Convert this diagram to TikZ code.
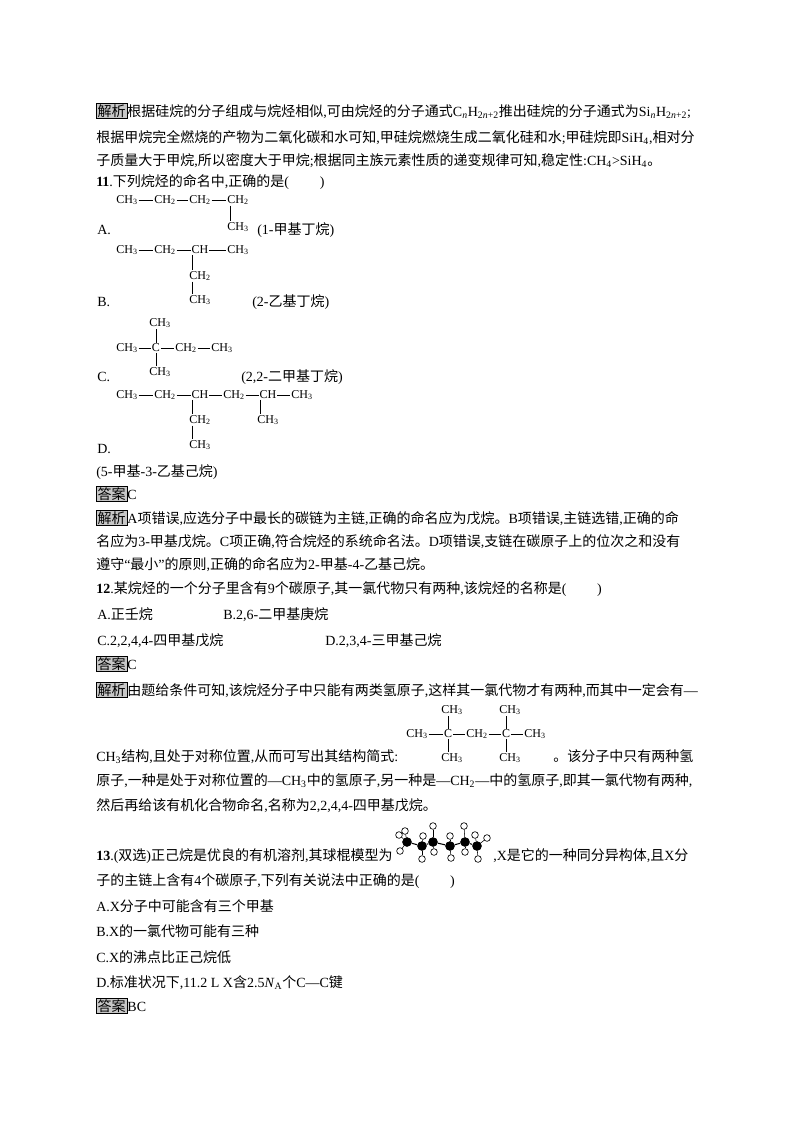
\documentclass[tikz,border=0pt]{standalone}
\usepackage{fontspec}
\setmainfont{Liberation Serif}
\newfontfamily\cjkf{Noto Sans CJK SC}
\newcommand\latf{\rmfamily}
\XeTeXinterchartokenstate=1
\newXeTeXintercharclass\cjkcls
\count255="4E00
\loop \XeTeXcharclass\count255=\cjkcls \ifnum\count255<"9FFF \advance\count255 by 1 \repeat
\count255="3000
\loop \XeTeXcharclass\count255=\cjkcls \ifnum\count255<"303F \advance\count255 by 1 \repeat
\count255="FF01
\loop \XeTeXcharclass\count255=\cjkcls \ifnum\count255<"FF5E \advance\count255 by 1 \repeat
\XeTeXinterchartoks 0 \cjkcls={\cjkf}
\XeTeXinterchartoks 4095 \cjkcls={\cjkf}
\XeTeXinterchartoks \cjkcls 0={\latf}
\XeTeXinterchartoks \cjkcls 4095={\latf}
\newcommand\subs[1]{\textsubscript{#1}}
\newcommand\chg[1]{CH\textsubscript{#1}}
\begin{document}
\begin{tikzpicture}[x=0.75pt,y=-0.75pt,
  txt/.style={anchor=base west,inner sep=0pt,font=\fontsize{10.5pt}{12pt}\selectfont},
  grp/.style={inner sep=0.5pt,font=\fontsize{9pt}{10pt}\selectfont},
  tag/.style={anchor=base west,inner sep=1pt,draw=black,fill=black!22,font=\fontsize{10.5pt}{12pt}\selectfont},
  bond/.style={line width=0.4pt},
  cat/.style={circle,fill=black,inner sep=0pt,minimum size=7pt},
  hat/.style={circle,draw=black,fill=white,inner sep=0pt,minimum size=5pt,line width=0.5pt}]
\useasboundingbox (0,0) rectangle (800,1132);
% first paragraph
\node[tag] (t1) at (96,116) {解析};
\node[txt,anchor=base west] (l1) at (t1.base east) {根据硅烷的分子组成与烷烃相似,可由烷烃的分子通式C\subs{\textit{n}}H\subs{2\textit{n}+2}推出硅烷的分子通式为Si\subs{\textit{n}}H\subs{2\textit{n}+2};};
\node[txt] (l2) at (96,142) {根据甲烷完全燃烧的产物为二氧化碳和水可知,甲硅烷燃烧生成二氧化硅和水;甲硅烷即SiH\subs{4},相对分};
\node[txt] (l3) at (96,165) {子质量大于甲烷,所以密度大于甲烷;根据同主族元素性质的递变规律可知,稳定性:CH\subs{4}>SiH\subs{4}。};
\node[txt] (q11) at (96,186) {\textbf{11}.下列烷烃的命名中,正确的是(\hspace{2.2em})};
% A
\node[grp] (a1) at (127,200) {\chg{3}};
\node[grp] (a2) at (165,200) {\chg{2}};
\node[grp] (a3) at (200,200) {\chg{2}};
\node[grp] (a4) at (238,200) {\chg{2}};
\node[grp] (a5) at (238,227) {\chg{3}};
\draw[bond] (a1) -- (a2); \draw[bond] (a2) -- (a3); \draw[bond] (a3) -- (a4);
\draw[bond] ([xshift=3pt]a4.south west) -- ([xshift=3pt]a4.south west |- a5.north);
\node[txt] (la) at (97,234) {A.};
\node[txt] (na) at (257,234) {(1-甲基丁烷)};
% B
\node[grp] (b1) at (127,250) {\chg{3}};
\node[grp] (b2) at (165,250) {\chg{2}};
\node[grp] (b3) at (200,250) {CH};
\node[grp] (b4) at (238,250) {\chg{3}};
\node[grp] (b5) at (200,276) {\chg{2}};
\node[grp] (b6) at (200,300) {\chg{3}};
\draw[bond] (b1) -- (b2); \draw[bond] (b2) -- (b3); \draw[bond] (b3) -- (b4);
\draw[bond] ([xshift=3pt]b5.north west |- b3.south) -- ([xshift=3pt]b5.north west);
\draw[bond] ([xshift=3pt]b5.south west) -- ([xshift=3pt]b5.south west |- b6.north);
\node[txt] (lb) at (97,306) {B.};
\node[txt] (nb) at (252,306) {(2-乙基丁烷)};
% C
\node[grp] (c0) at (160,323) {\chg{3}};
\node[grp] (c1) at (127,348) {\chg{3}};
\node[grp] (c2) at (156,348) {C};
\node[grp] (c3) at (186,348) {\chg{2}};
\node[grp] (c4) at (222,348) {\chg{3}};
\node[grp] (c5) at (160,372) {\chg{3}};
\draw[bond] (c1) -- (c2); \draw[bond] (c2) -- (c3); \draw[bond] (c3) -- (c4);
\draw[bond] (c2) -- (c2 |- c0.south); \draw[bond] (c2) -- (c2 |- c5.north);
\node[txt] (lc) at (97,381) {C.};
\node[txt] (nc) at (241,381) {(2,2-二甲基丁烷)};
% D
\node[grp] (d1) at (127,395) {\chg{3}};
\node[grp] (d2) at (165,395) {\chg{2}};
\node[grp] (d3) at (200,395) {CH};
\node[grp] (d4) at (234,395) {\chg{2}};
\node[grp] (d5) at (268,395) {CH};
\node[grp] (d6) at (302,395) {\chg{3}};
\node[grp] (d7) at (200,420) {\chg{2}};
\node[grp] (d8) at (200,445) {\chg{3}};
\node[grp] (d9) at (268,420) {\chg{3}};
\draw[bond] (d1) -- (d2); \draw[bond] (d2) -- (d3); \draw[bond] (d3) -- (d4);
\draw[bond] (d4) -- (d5); \draw[bond] (d5) -- (d6);
\draw[bond] ([xshift=3pt]d7.north west |- d3.south) -- ([xshift=3pt]d7.north west);
\draw[bond] ([xshift=3pt]d7.south west) -- ([xshift=3pt]d7.south west |- d8.north);
\draw[bond] ([xshift=3pt]d9.north west |- d5.south) -- ([xshift=3pt]d9.north west);
\node[txt] (ld) at (97,453) {D.};
\node[txt] (nd) at (96,476) {(5-甲基-3-乙基己烷)};
\node[tag] (t2) at (96,499) {答案};
\node[txt] (a11) at (t2.base east) {C};
\node[tag] (t3) at (96,523) {解析};
\node[txt] (e1) at (t3.base east) {A项错误,应选分子中最长的碳链为主链,正确的命名应为戊烷。B项错误,主链选错,正确的命};
\node[txt] (e2) at (96,546) {名应为3-甲基戊烷。C项正确,符合烷烃的系统命名法。D项错误,支链在碳原子上的位次之和没有};
\node[txt] (e3) at (96,569) {遵守“最小”的原则,正确的命名应为2-甲基-4-乙基己烷。};
% 12
\node[txt] (q12) at (96,593) {\textbf{12}.某烷烃的一个分子里含有9个碳原子,其一氯代物只有两种,该烷烃的名称是(\hspace{2.2em})};
\node[txt] (o1) at (97,619) {A.正壬烷};
\node[txt] (o2) at (223,619) {B.2,6-二甲基庚烷};
\node[txt] (o3) at (97,645) {C.2,2,4,4-四甲基戊烷};
\node[txt] (o4) at (325,645) {D.2,3,4-三甲基己烷};
\node[tag] (t4) at (96,669) {答案};
\node[txt] (a12) at (t4.base east) {C};
\node[tag] (t5) at (96,695) {解析};
\node[txt] (f1) at (t5.base east) {由题给条件可知,该烷烃分子中只能有两类氢原子,这样其一氯代物才有两种,而其中一定会有—};
\node[grp] (s1) at (452,710) {\chg{3}};
\node[grp] (s2) at (510,710) {\chg{3}};
\node[grp] (s3) at (417,734) {\chg{3}};
\node[grp] (s4) at (448,734) {C};
\node[grp] (s5) at (477,734) {\chg{2}};
\node[grp] (s6) at (506,734) {C};
\node[grp] (s7) at (535,734) {\chg{3}};
\node[grp] (s8) at (452,758) {\chg{3}};
\node[grp] (s9) at (510,758) {\chg{3}};
\draw[bond] (s3) -- (s4); \draw[bond] (s4) -- (s5); \draw[bond] (s5) -- (s6); \draw[bond] (s6) -- (s7);
\draw[bond] (s4) -- (s4 |- s1.south); \draw[bond] (s4) -- (s4 |- s8.north);
\draw[bond] (s6) -- (s6 |- s2.south); \draw[bond] (s6) -- (s6 |- s9.north);
\node[txt] (f2) at (96,761) {CH\subs{3}结构,且处于对称位置,从而可写出其结构简式:};
\node[txt] (f3) at (553,761) {。该分子中只有两种氢};
\node[txt] (f4) at (96,785) {原子,一种是处于对称位置的—CH\subs{3}中的氢原子,另一种是—CH\subs{2}—中的氢原子,即其一氯代物有两种,};
\node[txt] (f5) at (96,810) {然后再给该有机化合物命名,名称为2,2,4,4-四甲基戊烷。};
% 13
\node[txt] (q13) at (96,860) {\textbf{13}.(双选)正己烷是优良的有机溶剂,其球棍模型为};
\node[txt] (q13b) at (493,860) {,X是它的一种同分异构体,且X分};
\foreach \i/\x/\y in {1/407/842,2/422/846,3/433/842,4/450/846,5/465/842,6/477/846} \node[cat] (k\i) at (\x,\y) {};
\foreach \n/\x/\y/\c in {h1/399/835/k1,h2/405/831/k1,h3/400/851/k1,h4/423/836/k2,h5/422/859/k2,h6/433/826/k3,h7/434/852/k3,h8/450/836/k4,h9/451/858/k4,h10/464/826/k5,h11/465/852/k5,h12/475/835/k6,h13/487/838/k6,h14/478/859/k6}
  {\node[hat] (\n) at (\x,\y) {}; \draw[bond] (\c) -- (\n);}
\foreach \a/\b in {k1/k2,k2/k3,k3/k4,k4/k5,k5/k6} \draw[line width=0.8pt] (\a) -- (\b);
\foreach \i in {1,...,6} \node[cat] at (k\i) {};
\node[txt] (g1) at (96,885) {子的主链上含有4个碳原子,下列有关说法中正确的是(\hspace{2.2em})};
\node[txt] (g2) at (96,911) {A.X分子中可能含有三个甲基};
\node[txt] (g3) at (96,936) {B.X的一氯代物可能有三种};
\node[txt] (g4) at (96,962) {C.X的沸点比正己烷低};
\node[txt] (g5) at (96,987) {D.标准状况下,11.2 L X含2.5\textit{N}\subs{A}个C—C键};
\node[tag] (t6) at (96,1011) {答案};
\node[txt] (a13) at (t6.base east) {BC};
\end{tikzpicture}
\end{document}
